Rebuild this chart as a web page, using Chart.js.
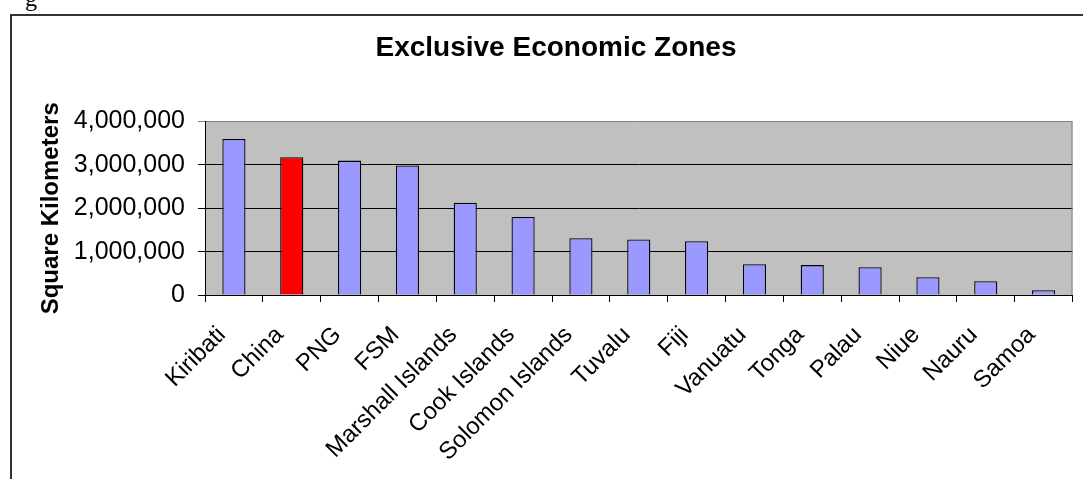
<!DOCTYPE html>
<html>
<head>
<meta charset="utf-8">
<title>Exclusive Economic Zones</title>
<script src="https://cdn.jsdelivr.net/npm/chart.js@4"></script>
<style>
    html, body { margin: 0; padding: 0; background: #fff; overflow: hidden; }
    #wrap { position: relative; width: 1083px; height: 479px; overflow: hidden; }
    #frame { position: absolute; left: 10px; top: 14px; width: 1200px; height: 600px;
             border-left: 2px solid #333; border-top: 2px solid #333; }
    #caption { position: absolute; left: 25px; top: -14px; font: 24px "Liberation Serif", serif; line-height: 24px; }
    #eezChart { position: absolute; left: 0; top: 0; }
</style>
</head>
<body>
<div id="wrap">
    <div id="caption">g</div>
    <div id="frame"></div>
    <canvas id="eezChart" width="1083" height="479"></canvas>
</div>
<script>
// chart data
const countries = ['Kiribati', 'China', 'PNG', 'FSM', 'Marshall Islands', 'Cook Islands', 'Solomon Islands',
    'Tuvalu', 'Fiji', 'Vanuatu', 'Tonga', 'Palau', 'Niue', 'Nauru', 'Samoa'];
const eezArea = [3600000, 3180000, 3100000, 2990000, 2130000, 1800000, 1310000,
    1280000, 1240000, 710000, 690000, 640000, 410000, 320000, 110000];
const highlighted = ['China'];
const yTicks = [0, 1000000, 2000000, 3000000, 4000000];

document.addEventListener('DOMContentLoaded', () => {

    // --- 1. Defaults ---
    Chart.defaults.color = '#000';
    Chart.defaults.font.family = '"Liberation Sans", Arial, sans-serif';

    const barColors = countries.map(c => highlighted.includes(c) ? '#FF0000' : '#9999FF');

    // --- 2. Grey plot area with a grey right edge (Excel look) ---
    const plotBackground = {
        id: 'plotBackground',
        beforeDraw(chart) {
            const { ctx, chartArea: a } = chart;
            ctx.save();
            ctx.fillStyle = '#C0C0C0';
            ctx.fillRect(a.left, a.top, a.right - a.left, a.bottom - a.top);
            ctx.restore();
        },
        afterDatasetsDraw(chart) {
            const { ctx, chartArea: a } = chart;
            ctx.save();
            ctx.strokeStyle = '#808080';
            ctx.lineWidth = 1;
            ctx.beginPath();
            ctx.moveTo(a.right - 0.5, a.top);
            ctx.lineTo(a.right - 0.5, a.bottom);
            ctx.stroke();
            ctx.restore();
        }
    };

    // --- 3. Chart ---
    window.eezChart = new Chart(document.getElementById('eezChart'), {
        type: 'bar',
        data: {
            labels: countries,
            datasets: [{
                data: eezArea,
                backgroundColor: barColors,
                borderColor: '#000',
                borderWidth: 1.3,
                categoryPercentage: 1,
                barPercentage: 0.4
            }]
        },
        options: {
            responsive: false,
            animation: false,
            layout: { padding: { left: 30, right: 1, top: 0, bottom: 0 } },
            plugins: {
                legend: { display: false },
                tooltip: { enabled: false },
                title: {
                    display: true,
                    text: 'Exclusive Economic Zones',
                    font: { size: 28, weight: 'bold' },
                    padding: { top: 31, bottom: 57 }
                }
            },
            scales: {
                x: {
                    grid: { drawOnChartArea: false, offset: true, tickLength: 7, color: '#000' },
                    border: { color: '#000', width: 1 },
                    ticks: { font: { size: 24 }, minRotation: 45, maxRotation: 45, autoSkip: false, padding: 19, labelOffset: -12 },
                    afterFit(scale) { scale.height = 184; }
                },
                y: {
                    min: 0,
                    max: 4000000,
                    afterBuildTicks(scale) { scale.ticks = yTicks.map(v => ({ value: v })); },
                    grid: {
                        color: ctx => (ctx.tick && ctx.tick.value === 4000000) ? '#808080' : '#000',
                        tickLength: 7
                    },
                    border: { color: '#000', width: 1 },
                    ticks: {
                        font: { size: 25 },
                        padding: 13,
                        callback: v => Number(v).toLocaleString('en-US')
                    },
                    title: {
                        display: true,
                        text: 'Square Kilometers',
                        font: { size: 24, weight: 'bold' },
                        padding: { top: 7, bottom: 0 }
                    },
                    afterFit(scale) { scale.width = 175; }
                }
            }
        },
        plugins: [plotBackground]
    });
});
</script>
</body>
</html>
